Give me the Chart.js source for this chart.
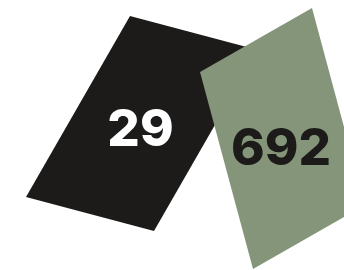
<!DOCTYPE html>
<html>
<head>
<meta charset="utf-8">
<script src="https://cdn.jsdelivr.net/npm/chart.js@4/dist/chart.umd.min.js"></script>
<style>
html,body{margin:0;padding:0;background:#fff;}
#wrap{width:344px;height:270px;position:relative;}
</style>
</head>
<body>
<div id="wrap"><canvas id="c" width="344" height="270"></canvas></div>
<script>
// Data
const categories = ['Series A', 'Series B'];
const values = [29, 692];
const fillColors = ['#1c1b19', '#84957a'];
const labelColors = ['#ffffff', '#1c1b19'];

// Layout (shape geometry in scale units; decorative, not data)
const shapes = [
  { origin: [26, 197], u: [104, -181], v: [128, 34], label: [140.5, 127] },
  { origin: [200, 72], u: [112, -64], v: [53, 197], label: [281, 146] }
];

function corners(s) {
  const [ox, oy] = s.origin, [ux, uy] = s.u, [vx, vy] = s.v;
  return [
    { x: ox, y: oy },
    { x: ox + ux, y: oy + uy },
    { x: ox + ux + vx, y: oy + uy + vy },
    { x: ox + vx, y: oy + vy },
    { x: ox, y: oy }
  ];
}

const datasets = categories.map((c, i) => ({
  label: c,
  data: corners(shapes[i]),
  showLine: true,
  fill: 'shape',
  backgroundColor: fillColors[i],
  borderColor: fillColors[i],
  borderWidth: 0,
  pointRadius: 0,
  tension: 0,
  order: categories.length - i
}));

const labelPlugin = {
  id: 'valueLabels',
  afterDatasetsDraw(chart) {
    const ctx = chart.ctx, xs = chart.scales.x, ys = chart.scales.y;
    ctx.save();
    ctx.textAlign = 'center';
    ctx.textBaseline = 'alphabetic';
    values.forEach((v, i) => {
      const [lx, ly] = shapes[i].label;
      ctx.font = '800 51px Inter';
      ctx.fillStyle = labelColors[i];
      const px = xs.getPixelForValue(lx), py = ys.getPixelForValue(ly);
      ctx.fillText(String(v), px, py + 19);
    });
    ctx.restore();
  }
};

new Chart(document.getElementById('c'), {
  type: 'scatter',
  data: { datasets },
  options: {
    responsive: false,
    animation: false,
    layout: { padding: 0 },
    plugins: { legend: { display: false }, tooltip: { enabled: false } },
    scales: {
      x: { type: 'linear', min: 0, max: 344, display: false },
      y: { type: 'linear', min: 0, max: 270, reverse: true, display: false }
    }
  },
  plugins: [labelPlugin]
});
</script>
</body>
</html>
